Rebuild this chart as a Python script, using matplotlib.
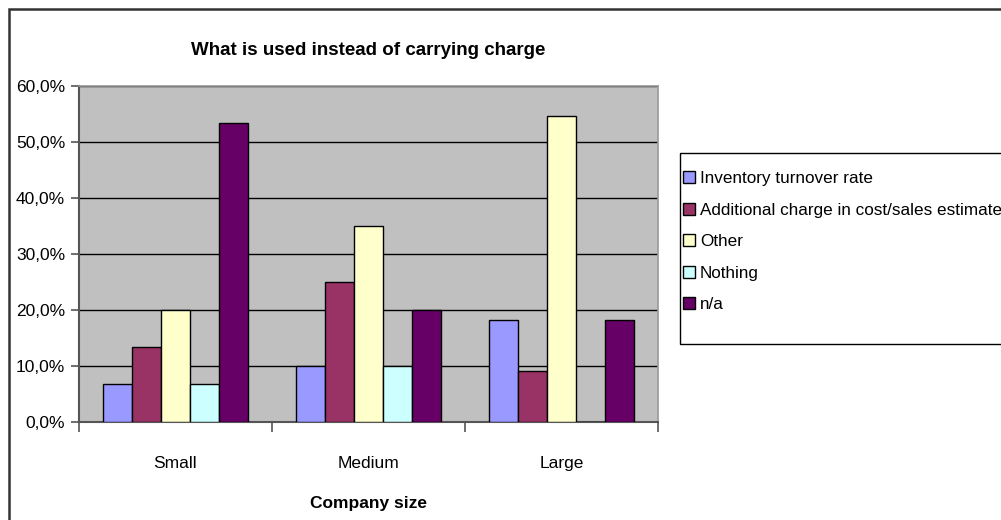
import matplotlib
matplotlib.use("Agg")
import matplotlib.pyplot as plt
import numpy as np
from matplotlib.patches import Rectangle
from matplotlib.ticker import FuncFormatter

#====== DATA ======================================
sizes = ["Small", "Medium", "Large"]
answers = ["Inventory turnover rate", "Additional charge in cost/sales estimate",
           "Other", "Nothing", "n/a"]
inventory_turnover = [6.7, 10.0, 18.2]
additional_charge = [13.3, 25.0, 9.1]
other = [20.0, 35.0, 54.5]
nothing = [6.7, 10.0, 0.0]
not_applicable = [53.3, 20.0, 18.2]

colors = ["#9999FF", "#993366", "#FFFFCC", "#CCFFFF", "#660066"]

plt.rcParams["font.family"] = ["Liberation Sans", "DejaVu Sans"]

W, H = 1001, 520
fig = plt.figure(figsize=(W / 100, H / 100), dpi=100)
ax = fig.add_axes([79 / W, 1 - 421.7 / H, (658 - 79) / W, (421.7 - 85.5) / H])

series = [inventory_turnover, additional_charge, other, nothing, not_applicable]
x = np.arange(len(sizes))
bar_w = 0.15
for i, (vals, col, lab) in enumerate(zip(series, colors, answers)):
    offs = (i - 2) * bar_w
    ax.bar(x + offs, vals, width=bar_w, color=col, edgecolor="black",
           linewidth=1.0, label=lab, zorder=3)

ax.set_facecolor("#C0C0C0")
ax.set_xlim(-0.5, 2.5)
ax.set_ylim(0, 60)
ax.set_yticks(np.arange(0, 61, 10))
ax.yaxis.set_major_formatter(FuncFormatter(lambda v, p: f"{v:.1f}%".replace(".", ",")))
ax.grid(axis="y", color="black", linewidth=1.0, zorder=1)
ax.set_axisbelow(True)

# category ticks sit between the groups
ax.set_xticks([-0.5, 0.5, 1.5, 2.5])
ax.set_xticklabels([])
ax.set_xticks(x, minor=True)
ax.set_xticklabels(sizes, minor=True, fontsize=12.5)
ax.tick_params(axis="x", which="minor", length=0, pad=25)
ax.tick_params(axis="x", which="major", length=7, width=1.2, color="#555555")
ax.tick_params(axis="y", length=6, width=1.2, color="#555555", labelsize=12.5, pad=4)

for side in ["top", "right"]:
    ax.spines[side].set_color("#999999")
    ax.spines[side].set_linewidth(1.2)
for side in ["left", "bottom"]:
    ax.spines[side].set_color("#555555")
    ax.spines[side].set_linewidth(1.5)

ax.set_title("What is used instead of carrying charge", fontsize=13.5,
             fontweight="bold", pad=22)
ax.set_xlabel("Company size", fontsize=12.5, fontweight="bold", labelpad=18)

# legend entries, with a separate box drawn round them
leg = fig.legend(loc="upper left", bbox_to_anchor=(683 / W, 1 - 171 / H),
                 fontsize=12.3, frameon=False, borderpad=0,
                 handlelength=0.7, handleheight=0.7, handletextpad=0.3,
                 labelspacing=0.97, borderaxespad=0)
for h in leg.legend_handles:
    h.set_edgecolor("black")
    h.set_linewidth(1.0)
fig.patches.append(Rectangle((680 / W, 1 - 344 / H), 0.5, (344 - 153) / H,
                             transform=fig.transFigure, fill=False,
                             edgecolor="black", linewidth=1.0))

# outer chart border
fig.patches.append(Rectangle((9 / W, -0.1), 1.2, 1.1 - 9 / H, transform=fig.transFigure,
                             fill=False, edgecolor="#333333", linewidth=1.8))

fig.savefig("out.png", dpi=100)
